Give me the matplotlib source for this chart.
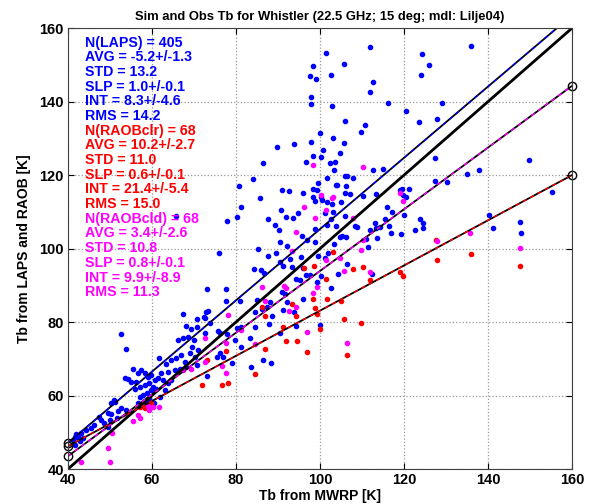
import numpy as np
import matplotlib.pyplot as plt

plt.rcParams['font.family'] = ['Liberation Sans', 'DejaVu Sans']
plt.rcParams['font.weight'] = 'bold'

# LAPS (blue) points
laps_x = [111.8, 101.4, 105.6, 98.4, 97.5, 99.0, 102.6, 112.5, 111.9, 97.8, 97.8, 102.9, 116.1, 120.5,
          124.2, 126.0, 124.1, 136.0, 129.0, 127.8, 123.6, 110.6, 109.8, 105.9, 100.0, 97.8, 103.2, 105.6,
          100.8, 98.4, 100.2, 104.8, 96.7, 102.4, 103.6, 103.4, 105.9, 106.5, 107.9, 115.1, 112.7, 127.4,
          127.4, 130.2, 134.9, 137.9, 149.8, 101.6, 99.6, 95.9, 98.3, 99.2, 98.4, 100.4, 100.2, 98.8, 101.2,
          101.6, 102.8, 104.9, 103.9, 107.1, 103.2, 102.6, 103.9, 98.8, 101.6, 105.2, 108.7, 111.9, 113.3,
          116.0, 117.2, 119.0, 119.8, 120.4, 122.6, 124.4, 124.6, 140.1, 141.1, 147.6, 147.8, 155.2, 98.8,
          96.8, 95.6, 116.3, 114.3, 111.0,
          104.0, 106.1, 106.0, 113.4, 110.2, 119.6, 121.2, 106.0, 108.4, 113.1, 115.5, 119.9, 123.8, 119.3,
          116.8, 113.5, 104.8, 106.1, 103.4,
          111.5, 106.5, 104.2, 112.3, 102.6,
          89.8, 93.9, 86.4, 84.1, 80.6, 85.7, 81.1, 91.0, 92.5, 80.2, 77.9, 87.7, 90.7, 91.9, 93.5, 94.8,
          89.3, 90.3, 90.5, 92.2, 85.2, 89.5, 65.7,
          76.0, 87.7, 90.5, 92.9, 95.4, 84.3, 86.0, 86.7, 91.3, 93.3, 96.0, 96.7, 94.3, 95.2, 97.6, 99.6,
          101.2, 99.2, 100.2, 102.0, 73.2, 77.6, 90.9, 91.7, 95.9, 92.2, 80.9, 77.6, 84.9, 84.5, 86.3, 87.3,
          88.1, 88.5, 91.1, 93.9, 72.9, 73.4, 72.4, 72.6, 73.7, 81.1, 84.5, 87.9, 94.3, 100.0, 75.8, 76.2,
          77.9, 80.2, 79.8, 72.6, 83.3, 81.1, 90.5, 75.4, 76.8, 76.3, 79.0, 86.4, 88.3, 83.5, 73.0,
          67.5, 52.7, 53.7, 66.2, 67.4, 68.6, 69.4, 70.6, 70.8, 68.2, 70.0, 69.5, 69.0, 67.0, 65.8, 64.6,
          63.4, 61.6, 67.8, 68.2, 65.4, 66.6, 63.8, 62.2, 61.4, 60.6, 59.8, 59.0, 58.3, 57.5, 56.7, 55.5,
          54.3, 53.5, 56.3, 57.1, 58.3, 59.4, 60.2, 61.0, 59.8, 58.9, 57.9, 57.1, 55.9, 55.1, 59.4, 58.4,
          60.5, 61.8, 63.0, 63.8, 64.6, 62.6, 58.9, 59.4, 56.7, 52.7, 53.7, 51.9, 51.1, 50.3, 51.0, 50.3,
          49.5, 49.9, 47.9, 47.5, 46.2, 45.6, 44.4, 43.2, 42.4, 42.8, 41.7, 41.2, 41.6, 43.6, 42.0, 49.5,
          48.6, 51.7, 70.2, 71.0, 70.8]
laps_y = [154.7, 153.1, 150.2, 149.8, 147.0, 146.0, 147.2, 145.4, 142.5, 141.1, 139.3, 138.9, 139.5, 137.5,
          152.8, 149.9, 147.2, 155.2, 139.5, 135.3, 134.3, 133.6, 131.7, 134.7, 131.5, 128.9, 130.0, 128.8,
          126.8, 125.2, 125.0, 125.9, 123.6, 123.2, 123.6, 121.4, 119.8, 119.8, 119.3, 121.7, 121.4, 124.7,
          118.5, 118.2, 120.3, 121.4, 124.1, 119.3, 117.9, 115.0, 116.2, 116.0, 114.1, 113.2, 114.1, 112.8, 109.6,
          112.6, 112.1, 112.6, 117.3, 114.9, 110.0, 108.0, 106.0, 105.3, 106.4, 103.3, 105.8, 105.1, 105.5,
          111.2, 109.9, 115.8, 114.6, 114.1, 105.1, 106.9, 105.5, 109.1, 105.5, 107.1, 104.2, 115.5, 101.9,
          102.3, 103.4, 106.1, 105.9, 102.7,
          117.3, 117.0, 115.0, 114.7, 114.3, 116.1, 116.1, 108.8, 106.0, 107.0, 108.0, 109.1, 108.0, 104.0,
          104.1, 102.8, 103.0, 103.0, 101.2,
          100.3, 95.7, 93.0, 93.1, 89.2,
          127.7, 128.4, 123.2, 118.8, 116.9, 113.7, 111.4, 115.9, 115.7, 108.5, 107.6, 108.1, 110.5, 108.5, 108.2, 109.6,
          106.4, 105.1, 101.9, 100.7, 99.9, 98.9, 108.8,
          98.7, 98.0, 96.4, 97.1, 97.8, 94.3, 94.2, 93.4, 95.2, 95.1, 94.6, 92.8, 91.6, 91.4, 92.8, 98.0,
          97.3, 91.0, 92.5, 98.7, 88.9, 88.9, 88.3, 87.6, 86.4, 85.5, 85.7, 85.7, 86.0, 82.8, 83.5, 84.0,
          85.5, 81.7, 83.3, 82.8, 82.8, 83.0, 81.5, 81.0, 79.6, 78.6, 78.6, 79.5, 78.9, 79.2, 77.6, 76.9,
          76.7, 78.3, 75.1, 76.9, 75.6, 73.3, 76.9, 70.6, 70.6, 71.5, 68.8, 69.7, 68.8, 67.7, 65.4,
          82.1, 76.7, 72.6, 75.1, 75.6, 76.0, 78.0, 78.6, 80.7, 78.9, 75.1, 73.3, 71.7, 71.0, 70.1, 69.7,
          68.6, 70.1, 69.0, 67.7, 67.0, 67.1, 66.5, 66.1, 64.7, 64.2, 65.6, 65.0, 66.1, 67.0, 66.2, 67.1,
          64.4, 64.7, 63.8, 62.4, 62.9, 63.3, 62.4, 61.7, 61.5, 60.6, 60.1, 59.5, 61.7, 63.8, 59.2, 58.6,
          58.1, 59.7, 61.5, 63.3, 64.2, 64.2, 57.9, 57.0, 57.9, 56.5, 56.1, 55.9, 58.3, 57.9, 58.8, 55.0,
          55.2, 53.4, 53.4, 54.1, 52.0, 51.1, 50.6, 49.7, 48.8, 47.7, 48.6, 47.9, 46.6, 48.4, 49.5, 51.5,
          52.6, 53.8, 70.6, 72.4, 68.3]

# RAOB clear (red) points
clr_x = [127.6, 103.0, 107.8, 110.3, 111.8, 119.1, 119.7, 127.8, 136.0, 104.9, 105.7, 109.8, 106.4, 147.6,
         96.2, 98.6, 101.4, 101.6, 98.3, 98.8, 99.2, 100.0, 93.3, 94.3, 86.3, 86.9, 91.3, 91.9, 94.4, 96.8,
         86.9, 77.6, 73.2, 84.5, 76.6, 78.2, 71.8, 59.8, 58.3, 57.1]
clr_y = [102.3, 99.1, 94.3, 95.1, 91.4, 93.5, 92.5, 96.8, 98.5, 85.8, 80.7, 79.7, 71.1, 95.3,
         94.8, 95.2, 91.6, 86.4, 86.4, 83.7, 82.2, 78.0, 84.9, 81.6, 84.0, 81.7, 78.7, 74.9, 74.7, 71.9,
         72.7, 72.2, 69.7, 65.9, 62.9, 63.3, 62.9, 57.9, 56.5, 57.0]

# RAOB cloudy (magenta) points
cld_x = [98.4, 110.3, 100.2, 102.9, 101.4, 119.0, 119.7, 107.9, 110.3, 135.7, 147.6,
         103.0, 109.8, 104.8, 105.7, 111.8, 127.8, 106.4, 94.3, 93.3, 96.2, 98.8,
         86.3, 91.4, 91.9, 86.9, 92.5, 94.3, 98.3, 101.4, 99.2, 78.2, 81.1, 77.6, 96.8, 84.5, 72.6, 72.6,
         76.6, 77.6, 67.4, 69.4, 61.6, 60.2, 59.0, 59.4, 56.7, 57.1, 55.5, 49.5, 49.9, 43.0, 50.4]
cld_y = [122.7, 122.1, 114.6, 113.7, 110.5, 115.0, 113.0, 108.2, 102.3, 104.1, 100.1,
         113.9, 99.6, 97.5, 94.0, 93.7, 102.1, 74.2, 104.6, 99.4, 111.4, 108.4,
         89.4, 89.8, 89.2, 85.8, 83.1, 84.2, 87.8, 96.9, 89.4, 81.9, 77.8, 74.2, 77.4, 73.9, 75.6, 69.2,
         68.0, 66.0, 67.0, 67.1, 57.0, 56.8, 57.2, 56.1, 54.7, 53.8, 53.2, 45.6, 42.0, 42.0, 49.9]

# fit lines (slope, intercept)
fit_laps = (0.97, 8.3)
fit_clr = (0.615, 21.6)
fit_cld = (0.84, 9.9)

stats_laps = ["N(LAPS) = 405", "AVG = -5.2+/-1.3", "STD = 13.2", "SLP = 1.0+/-0.1", "INT = 8.3+/-4.6", "RMS = 14.2"]
stats_clr = ["N(RAOBclr) = 68", "AVG = 10.2+/-2.7", "STD = 11.0", "SLP = 0.6+/-0.1", "INT = 21.4+/-5.4", "RMS = 15.0"]
stats_cld = ["N(RAOBcld) = 68", "AVG = 3.4+/-2.6", "STD = 10.8", "SLP = 0.8+/-0.1", "INT = 9.9+/-8.9", "RMS = 11.3"]

blue = (0.0, 0.0, 1.0)
red = (1.0, 0.0, 0.0)
mag = (1.0, 0.0, 1.0)

fig = plt.figure(figsize=(5.96, 5.04), dpi=100)
ax = fig.add_axes([0.114, 0.0694, 0.846, 0.875])

ax.plot(laps_x, laps_y, 'o', color=blue, markersize=3.0, linestyle='none')
ax.plot(clr_x, clr_y, 'o', color=red, markersize=3.0, linestyle='none')
ax.plot(cld_x, cld_y, 'o', color=mag, markersize=3.0, linestyle='none')

# 1:1 line
xx = np.array([40, 160])
ax.plot(xx, xx, color='black', lw=2.0)

for (slp, icpt), c in [(fit_laps, blue), (fit_clr, red), (fit_cld, mag)]:
    yy = slp * xx + icpt
    ax.plot(xx, yy, color='black', lw=1.3)
    ax.plot(xx, yy, color=c, lw=1.0, dashes=(3, 3))
    for x0, y0 in zip(xx, yy):
        if 40 <= y0 <= 160:
            ax.plot(x0, y0, 'o', mfc='none', mec='black', markersize=6, mew=1.0, clip_on=False)

ax.set_xlim(40, 160)
ax.set_ylim(40, 160)
ax.set_xticks(np.arange(40, 161, 20))
ax.set_yticks(np.arange(40, 161, 20))
ax.grid(True, linestyle=':', color='0.6', lw=0.9)
ax.tick_params(direction='in', top=True, right=True, length=4, labelsize=10.5, pad=3)
for lab in ax.get_xticklabels() + ax.get_yticklabels():
    lab.set_fontweight('bold')
for s in ax.spines.values():
    s.set_linewidth(0.8)
    s.set_color('0.25')

ax.set_title("Sim and Obs Tb for Whistler (22.5 GHz; 15 deg; mdl: Lilje04)", fontsize=9.4, fontweight='bold', pad=6)
ax.set_xlabel("Tb from MWRP [K]", fontsize=10, fontweight='bold', labelpad=1)
ax.set_ylabel("Tb from LAPS and RAOB [K]", fontsize=10, fontweight='bold', labelpad=6)

lines = [(s, blue) for s in stats_laps] + [(s, red) for s in stats_clr] + [(s, mag) for s in stats_cld]
for i, (s, c) in enumerate(lines):
    ax.text(0.034, 0.967 - i * 0.0333, s, color=c, fontsize=10.2, fontweight='bold',
            transform=ax.transAxes, va='center', ha='left')

plt.savefig("out.png", dpi=100)
